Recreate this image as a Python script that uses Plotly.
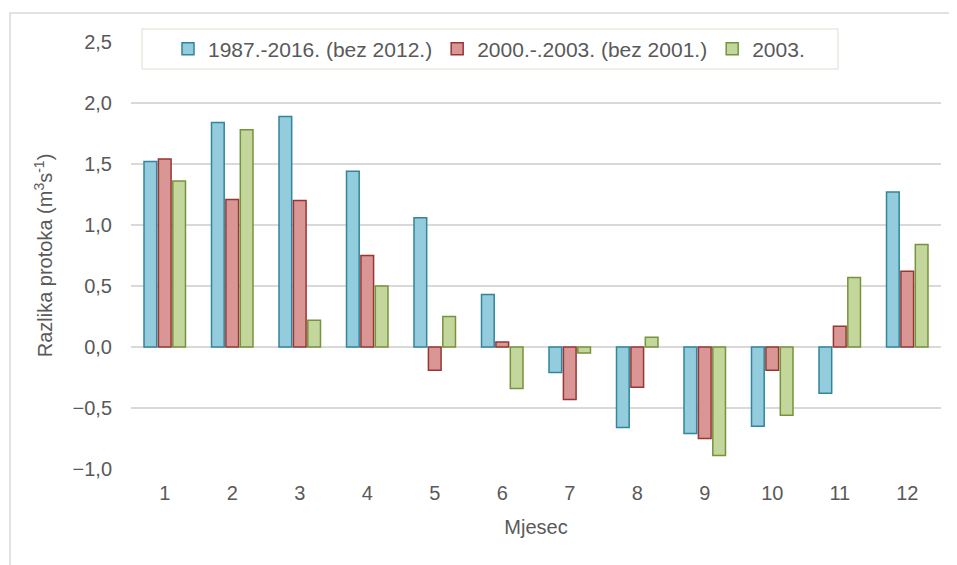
import plotly.graph_objects as go

months = ["1", "2", "3", "4", "5", "6", "7", "8", "9", "10", "11", "12"]
series_names = ["1987.-2016. (bez 2012.)", "2000.-.2003. (bez 2001.)", "2003."]
s1987 = [1.52, 1.84, 1.89, 1.44, 1.06, 0.43, -0.21, -0.66, -0.71, -0.65, -0.38, 1.27]
s2000 = [1.54, 1.21, 1.20, 0.75, -0.19, 0.04, -0.43, -0.33, -0.75, -0.19, 0.17, 0.62]
s2003 = [1.36, 1.78, 0.22, 0.50, 0.25, -0.34, -0.05, 0.08, -0.89, -0.56, 0.57, 0.84]

fills = ["#93CDDD", "#D99694", "#C3D69B"]
edges = ["#31859C", "#953735", "#77933C"]

fig = go.Figure()
for name, vals, fc, ec in zip(series_names, [s1987, s2000, s2003], fills, edges):
    fig.add_trace(go.Bar(x=months, y=vals, name=name,
                         marker=dict(color=fc, line=dict(color=ec, width=1.5))))

OFF = 8  # page body margin
W, H = 957, 565
L, T = 131 - OFF, 42 - OFF
pw, ph = 810, 427
R = W - L - pw
B = H - T - ph

def px_x(p):
    return (p - OFF - L) / pw

def px_y(p):
    return 1 - (p - OFF - T) / ph

FS = 20
TXT = "#595959"

fig.update_layout(
    width=W, height=H,
    margin=dict(l=L, r=R, t=T, b=B, autoexpand=False),
    paper_bgcolor="white", plot_bgcolor="white",
    separators=", ",
    font=dict(family="Liberation Sans, Arial, sans-serif", size=FS, color=TXT),
    barmode="group", bargap=0.36, bargroupgap=0.12,
    showlegend=True,
    legend=dict(orientation="h", x=px_x(168), y=px_y(49),
                xanchor="left", yanchor="middle",
                bgcolor="rgba(0,0,0,0)", borderwidth=0,
                font=dict(size=21, color=TXT),
                traceorder="normal"),
    xaxis=dict(showgrid=False, showline=False, ticks="",
               ticklabelstandoff=10,
               title=dict(text="Mjesec", standoff=16, font=dict(size=FS, color=TXT)),
               tickfont=dict(size=FS, color=TXT)),
    yaxis=dict(range=[-1.0, 2.5], dtick=0.5, tick0=0, tickformat=".1f",
               showgrid=True, gridcolor="#D9D9D9", gridwidth=1.5,
               zeroline=True, zerolinecolor="#D9D9D9", zerolinewidth=1.5,
               ticks="", ticklabelstandoff=18,
               title=dict(text="Razlika protoka (m<sup>3</sup>s<sup>-1</sup>)", standoff=14,
                          font=dict(size=FS, color=TXT)),
               tickfont=dict(size=FS, color=TXT)),
    shapes=[
        dict(type="rect", xref="paper", yref="paper",
             x0=px_x(10), x1=px_x(950), y0=px_y(600), y1=px_y(13),
             line=dict(color="#D9D9D9", width=1.5), fillcolor="rgba(0,0,0,0)",
             layer="below"),
        dict(type="rect", xref="paper", yref="paper",
             x0=px_x(142), x1=px_x(838), y0=px_y(69), y1=px_y(29),
             line=dict(color="#ECEAE0", width=1.5), fillcolor="white",
             layer="above"),
    ],
)

fig.write_html("out.html")
